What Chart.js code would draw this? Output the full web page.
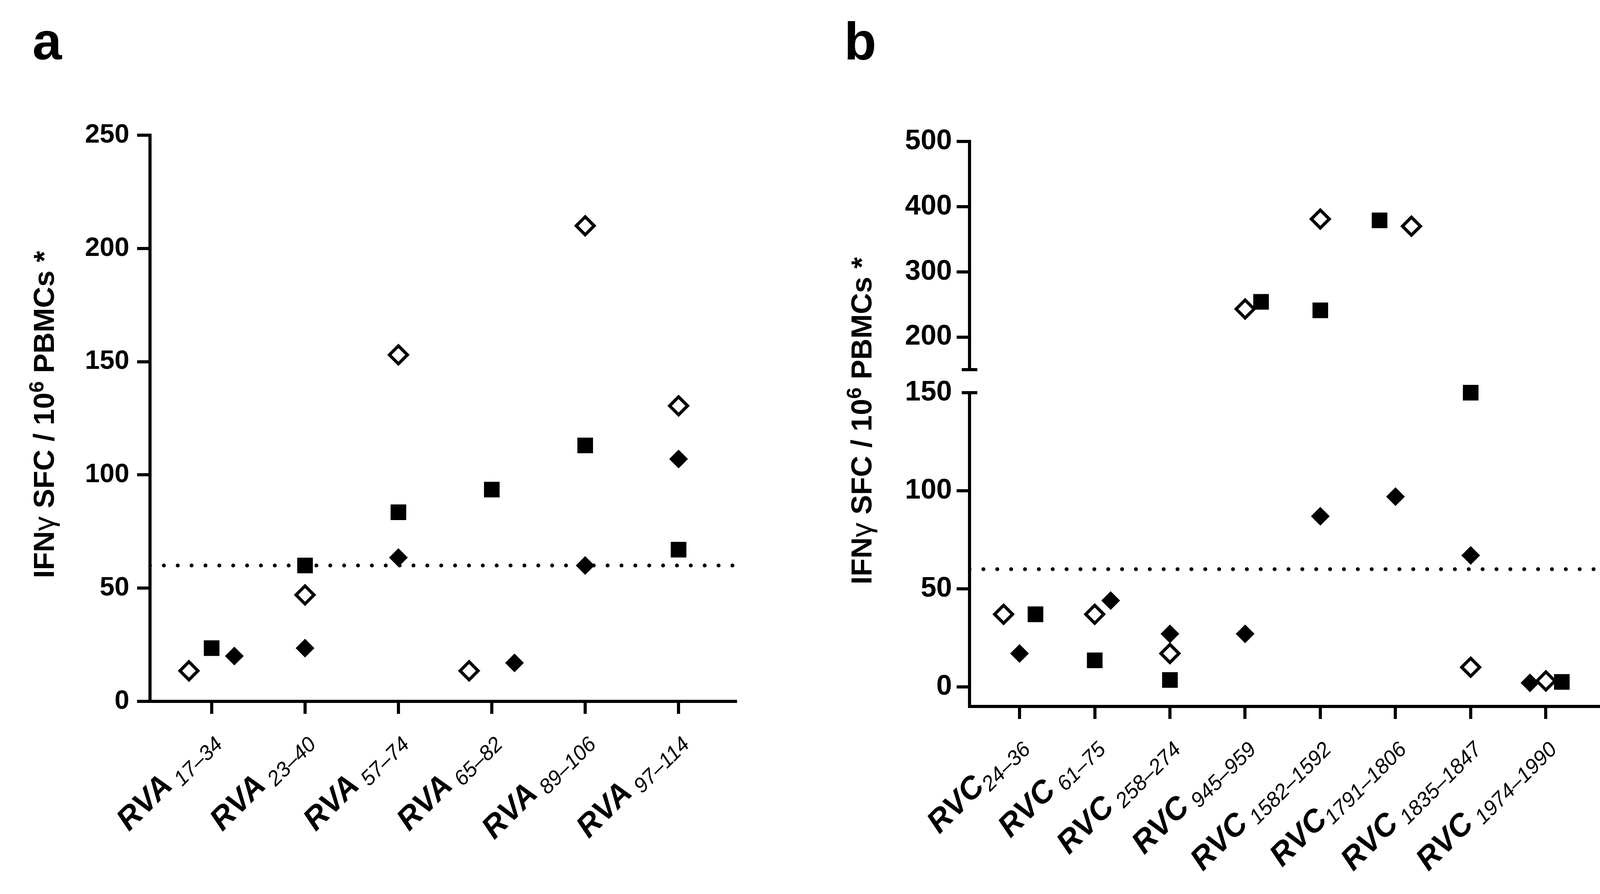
<!DOCTYPE html>
<html>
<head>
<meta charset="utf-8">
<title>IFNγ SFC RVA / RVC</title>
<script src="https://cdn.jsdelivr.net/npm/chart.js@4.4.1/dist/chart.umd.min.js"></script>
<style>
  html, body { margin: 0; padding: 0; background: #fff; }
  body { position: relative; width: 4146px; height: 2288px; overflow: hidden;
         font-family: "Liberation Sans", Arial, sans-serif; color: #000; }
  canvas { position: absolute; }
  .panel { position: absolute; font-weight: bold; font-size: 135px; line-height: 1; }
  .ytitle { position: absolute; font-weight: bold; font-size: 75px; line-height: 1;
            white-space: pre; transform: translate(-50%, -50%) rotate(-90deg); }
  .ytitle sup { font-size: 0.7em; line-height: 0; vertical-align: 0.5em; }
  .ytitle .g { font-weight: normal; }
</style>
</head>
<body>
<div class="panel" style="left:83px; top:38px">a</div>
<div class="panel" style="left:2161px; top:38px">b</div>
<div class="ytitle" style="left:112px; top:1061px">IFN<span class="g">γ</span> SFC / 10<sup>6</sup> PBMCs *</div>
<div class="ytitle" style="left:2205px; top:1077px">IFN<span class="g">γ</span> SFC / 10<sup>6</sup> PBMCs *</div>

<canvas id="chartA" width="2073" height="2288" style="left:0;top:0;width:2073px;height:2288px"></canvas>
<canvas id="chartBTop" width="2073" height="977" style="left:2073px;top:0;width:2073px;height:977px"></canvas>
<canvas id="chartBBottom" width="2073" height="1328" style="left:2073px;top:960px;width:2073px;height:1328px"></canvas>

<script>
// cut-off for a positive response (dotted line)
const THRESHOLD = 60;

// panel a: RVA peptides
const prefixA = 'RVA';
const labelsA = [' 17–34', ' 23–40', ' 57–74', ' 65–82', ' 89–106', ' 97–114'];
const openA   = [13.5, 47, 153, 13.5, 210, 130.5];
const squareA = [23.5, 60, 83.5, 93.5, 113, 67];
const filledA = [20, 23.5, 63.5, 17, 60, 107];
// side-by-side dodge of overlapping symbols (-1 left, 0 centre, 1 right)
const openDodgeA   = [-1, 0, 0, -1, 0, 0];
const squareDodgeA = [0, 0, 0, 0, 0, 0];
const filledDodgeA = [1, 0, 0, 1, 0, 0];
const yTicksA = [0, 50, 100, 150, 200, 250];

// panel b: RVC peptides (broken y axis)
const prefixB = 'RVC';
const labelsB = ['24–36', ' 61–75', ' 258–274', ' 945–959', ' 1582–1592', '1791–1806', ' 1835–1847', ' 1974–1990'];
const openB   = [37, 37, 17, 243, 381, 370, 10, 3];
const squareB = [37, 13.5, 3.5, 254, 241, 379, 150, 2.5];
const filledB = [17, 44, 27, 27, 87, 97, 67, 2];
const openDodgeB   = [-1, 0, 0, 0, 0, 1, 0, 0];
const squareDodgeB = [1, 0, 0, 1, 0, -1, 0, 1];
const filledDodgeB = [0, 1, 0, 0, 0, 0, 0, -1];
const yTicksBTop = [200, 300, 400, 500];
const yTicksBBottom = [0, 50, 100, 150];
const BREAK_AT = 150;

const FONT = '"Liberation Sans", Arial, sans-serif';
const BLACK = '#000';

function points(values, dodge, step, keep) {
    return values.map((v, i) => ({ x: i + dodge[i] * step, y: keep(v) ? v : null }));
}

const openStyle = {
    pointStyle: 'rectRot', pointRadius: 23, pointBorderWidth: 8,
    pointBackgroundColor: '#fff', pointBorderColor: BLACK,
    backgroundColor: '#fff', borderColor: BLACK
};
const squareStyle = {
    pointStyle: 'rect', pointRadius: 28.3, pointBorderWidth: 0,
    pointBackgroundColor: BLACK, pointBorderColor: BLACK,
    backgroundColor: BLACK, borderColor: BLACK
};
const filledStyle = {
    pointStyle: 'rectRot', pointRadius: 24, pointBorderWidth: 0,
    pointBackgroundColor: BLACK, pointBorderColor: BLACK,
    backgroundColor: BLACK, borderColor: BLACK
};

function thresholdLine(xMin, xMax) {
    return {
        type: 'line',
        data: [{ x: xMin, y: THRESHOLD }, { x: xMax, y: THRESHOLD }],
        borderColor: BLACK, borderWidth: 10, borderDash: [0, 35.5], borderCapStyle: 'round',
        pointRadius: 0, fill: false, order: 10
    };
}

function xScale(min, max, count, height, display) {
    return {
        type: 'linear', min: min, max: max, display: display,
        afterBuildTicks: s => { s.ticks = Array.from({ length: count }, (_, i) => ({ value: i })); },
        afterFit: s => { s.height = height; s.paddingLeft = 0; s.paddingRight = 0; },
        ticks: { display: false },
        grid: { drawOnChartArea: false, drawTicks: true, tickLength: 32, lineWidth: 8, color: BLACK },
        border: { display: true, color: BLACK, width: 8 }
    };
}

function yScale(min, max, ticks, width, fontSize, pad, hideTick) {
    return {
        min: min, max: max,
        afterBuildTicks: s => { s.ticks = ticks.map(v => ({ value: v })); },
        // fixed width, and no extra room asked for the end labels
        afterFit: s => { s.width = width; s.paddingTop = 0; s.paddingBottom = 0; },
        ticks: { color: BLACK, padding: pad, font: { family: FONT, size: fontSize, weight: 'bold' } },
        grid: {
            drawOnChartArea: false, drawTicks: true, tickLength: 33, lineWidth: 8,
            color: c => (c.tick && c.tick.value === hideTick) ? 'rgba(0,0,0,0)' : BLACK
        },
        border: { display: true, color: BLACK, width: 8 }
    };
}

// rotated category labels: bold italic prefix, smaller italic peptide range
function xLabels(prefix, suffixes) {
    return {
        id: 'xLabels',
        afterDraw(chart) {
            const ctx = chart.ctx;
            const xs = chart.scales.x;
            const y0 = chart.chartArea.bottom + 113;
            ctx.save();
            ctx.fillStyle = BLACK;
            ctx.textBaseline = 'alphabetic';
            ctx.textAlign = 'left';
            suffixes.forEach((suf, i) => {
                ctx.save();
                ctx.translate(xs.getPixelForValue(i) + 31, y0);
                ctx.rotate(-Math.PI / 4);
                ctx.font = 'italic 54px ' + FONT;
                const ws = ctx.measureText(suf).width;
                ctx.fillText(suf, -ws, 0);
                ctx.font = 'italic bold 80px ' + FONT;
                const wp = ctx.measureText(prefix).width;
                ctx.fillText(prefix, -ws - wp, -15);
                ctx.restore();
            });
            ctx.restore();
        }
    };
}

// short caps drawn across the axis where it is broken
function breakCap(value) {
    return {
        id: 'breakCap',
        afterDraw(chart) {
            const ctx = chart.ctx;
            const x = chart.chartArea.left;
            const y = chart.scales.y.getPixelForValue(value);
            ctx.save();
            ctx.strokeStyle = BLACK;
            ctx.lineWidth = 8;
            ctx.beginPath();
            ctx.moveTo(x - 20, y);
            ctx.lineTo(x + 20, y);
            ctx.stroke();
            ctx.restore();
        }
    };
}

const common = {
    responsive: false,
    animation: false,
    events: [],
    plugins: { legend: { display: false }, tooltip: { enabled: false } }
};

const keepAll = () => true;
const stepA = 0.243;
const xMinA = -0.66, xMaxA = 5.61;

new Chart(document.getElementById('chartA'), {
    type: 'scatter',
    data: {
        datasets: [
            Object.assign({ data: points(openA, openDodgeA, stepA, keepAll), clip: false }, openStyle),
            Object.assign({ data: points(squareA, squareDodgeA, stepA, keepAll), clip: false }, squareStyle),
            Object.assign({ data: points(filledA, filledDodgeA, stepA, keepAll), clip: false }, filledStyle),
            thresholdLine(xMinA, xMaxA)
        ]
    },
    options: Object.assign({}, common, {
        layout: { padding: { left: 0, top: 346, right: 190, bottom: 0 } },
        scales: {
            x: xScale(xMinA, xMaxA, labelsA.length, 493, true),
            y: yScale(0, 250, yTicksA, 384, 68, 20, null)
        }
    }),
    plugins: [xLabels(prefixA, labelsA)]
});

const stepB = 0.212;
const xMinB = -0.665, xMaxB = 7.73;
const upper = v => v > BREAK_AT;
const lower = v => v <= BREAK_AT;

// upper part of the broken axis (150 - 500)
new Chart(document.getElementById('chartBTop'), {
    type: 'scatter',
    data: {
        datasets: [
            Object.assign({ data: points(openB, openDodgeB, stepB, upper), clip: false }, openStyle),
            Object.assign({ data: points(squareB, squareDodgeB, stepB, upper), clip: false }, squareStyle),
            Object.assign({ data: points(filledB, filledDodgeB, stepB, upper), clip: false }, filledStyle)
        ]
    },
    options: Object.assign({}, common, {
        layout: { padding: { left: 0, top: 362, right: 48, bottom: 14 } },
        scales: {
            x: xScale(xMinB, xMaxB, labelsB.length, 0, false),
            y: yScale(BREAK_AT, 500, yTicksBTop, 409, 72, 12, null)
        }
    }),
    plugins: [breakCap(BREAK_AT)]
});

// lower part of the broken axis (-10 - 150)
new Chart(document.getElementById('chartBBottom'), {
    type: 'scatter',
    data: {
        datasets: [
            Object.assign({ data: points(openB, openDodgeB, stepB, lower), clip: false }, openStyle),
            Object.assign({ data: points(squareB, squareDodgeB, stepB, lower), clip: false }, squareStyle),
            Object.assign({ data: points(filledB, filledDodgeB, stepB, lower), clip: false }, filledStyle),
            thresholdLine(xMinB, xMaxB)
        ]
    },
    options: Object.assign({}, common, {
        layout: { padding: { left: 0, top: 45, right: 48, bottom: 0 } },
        scales: {
            x: xScale(xMinB, xMaxB, labelsB.length, 480, true),
            y: yScale(-10, BREAK_AT, yTicksBBottom, 409, 72, 12, BREAK_AT)
        }
    }),
    plugins: [xLabels(prefixB, labelsB), breakCap(BREAK_AT)]
});
</script>
</body>
</html>
